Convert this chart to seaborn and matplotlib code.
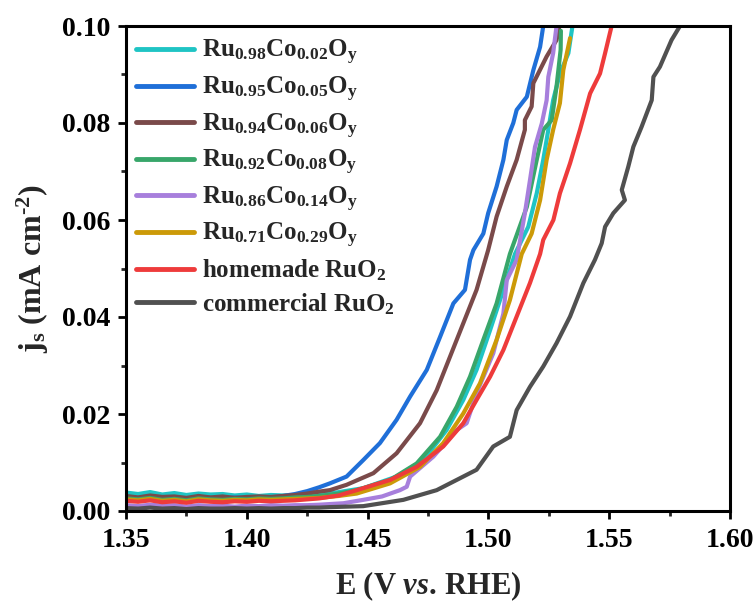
import numpy as np
import pandas as pd
import matplotlib
matplotlib.use("Agg")
import matplotlib.pyplot as plt
from matplotlib.ticker import FormatStrFormatter, MultipleLocator
import seaborn as sns

# ---------------- data ----------------
labels = [
    r"Ru$_{0.98}$Co$_{0.02}$O$_{y}$",
    r"Ru$_{0.95}$Co$_{0.05}$O$_{y}$",
    r"Ru$_{0.94}$Co$_{0.06}$O$_{y}$",
    r"Ru$_{0.92}$Co$_{0.08}$O$_{y}$",
    r"Ru$_{0.86}$Co$_{0.14}$O$_{y}$",
    r"Ru$_{0.71}$Co$_{0.29}$O$_{y}$",
    r"homemade RuO$_{2}$",
    r"commercial RuO$_{2}$",
]
colors = ["#1fc4c4", "#1f6fd8", "#7a4a4a", "#38a66a", "#a77fdc", "#cc9a08", "#ee3b3b", "#505050"]

flat_x = [1.350, 1.355, 1.360, 1.365, 1.370, 1.375, 1.380, 1.385,
          1.390, 1.395, 1.400, 1.405, 1.410, 1.415, 1.420, 1.425]

# Ru0.98Co0.02Oy (cyan)
x_c98 = flat_x + [1.4300, 1.4344, 1.4482, 1.4620, 1.4731, 1.4827, 1.4896, 1.4951, 1.5007, 1.5062,
                  1.5110, 1.5165, 1.5200, 1.5227, 1.5248, 1.5268, 1.5296, 1.5331, 1.5348]
y_c98 = [0.0038, 0.0035, 0.0039, 0.0034, 0.0037, 0.0033, 0.0036, 0.0034, 0.0035, 0.0032, 0.0034, 0.0031,
         0.0033, 0.0032, 0.0033, 0.0034,
         0.0035, 0.0036, 0.0047, 0.0071, 0.0105, 0.0167, 0.0229, 0.0291, 0.0373, 0.0456,
         0.0530, 0.0586, 0.0655, 0.0724, 0.0786, 0.0847, 0.0902, 0.0944, 0.1000]

# Ru0.95Co0.05Oy (blue)
x_c95 = flat_x + [1.4300, 1.4344, 1.4413, 1.4482, 1.4551, 1.4620, 1.4676, 1.4745, 1.4800, 1.4855,
                  1.4903, 1.4924, 1.4938, 1.4979, 1.4999, 1.5034, 1.5062, 1.5076, 1.5103, 1.5117,
                  1.5159, 1.5186, 1.5214, 1.5227]
y_c95 = [0.0029, 0.0027, 0.0030, 0.0026, 0.0028, 0.0025, 0.0029, 0.0027, 0.0026, 0.0028, 0.0027, 0.0029,
         0.0028, 0.0031, 0.0035, 0.0041,
         0.0049, 0.0057, 0.0071, 0.0105, 0.0140, 0.0188, 0.0236, 0.0291, 0.0359, 0.0428,
         0.0456, 0.0518, 0.0538, 0.0572, 0.0614, 0.0669, 0.0724, 0.0765, 0.0800, 0.0827,
         0.0854, 0.0909, 0.0957, 0.1000]

# Ru0.94Co0.06Oy (brown)
x_c94 = flat_x + [1.4300, 1.4344, 1.4413, 1.4524, 1.4620, 1.4717, 1.4786, 1.4841, 1.4896, 1.4951,
                  1.4999, 1.5034, 1.5076, 1.5117, 1.5151, 1.5151, 1.5179, 1.5186, 1.5241, 1.5282, 1.5294]
y_c94 = [0.0031, 0.0028, 0.0032, 0.0029, 0.0030, 0.0027, 0.0031, 0.0028, 0.0030, 0.0027, 0.0029, 0.0030,
         0.0029, 0.0031, 0.0033, 0.0036,
         0.0040, 0.0043, 0.0054, 0.0078, 0.0119, 0.0181, 0.0249, 0.0318, 0.0387, 0.0456,
         0.0538, 0.0607, 0.0669, 0.0724, 0.0786, 0.0806, 0.0834, 0.0882, 0.0937, 0.0971, 0.1000]

# Ru0.92Co0.08Oy (green)
x_c92 = flat_x + [1.4300, 1.4380, 1.4455, 1.4593, 1.4703, 1.4800, 1.4869, 1.4924, 1.4979, 1.5034,
                  1.5089, 1.5159, 1.5200, 1.5227, 1.5262, 1.5282, 1.5299, 1.5300]
y_c92 = [0.0026, 0.0024, 0.0027, 0.0023, 0.0025, 0.0022, 0.0026, 0.0024, 0.0023, 0.0025, 0.0024, 0.0026,
         0.0025, 0.0026, 0.0028, 0.0029,
         0.0031, 0.0036, 0.0043, 0.0064, 0.0098, 0.0153, 0.0215, 0.0277, 0.0353, 0.0428,
         0.0530, 0.0627, 0.0724, 0.0786, 0.0806, 0.0875, 0.0951, 0.0990]

# Ru0.86Co0.14Oy (purple)
x_c86 = flat_x + [1.4300, 1.4400, 1.4482, 1.4560, 1.4634, 1.4662, 1.4676, 1.4772, 1.4869, 1.4910,
                  1.4951, 1.5020, 1.5062, 1.5076, 1.5117, 1.5151, 1.5172, 1.5193, 1.5221, 1.5241,
                  1.5248, 1.5268, 1.5282]
y_c86 = [0.0012, 0.0010, 0.0013, 0.0011, 0.0012, 0.0009, 0.0012, 0.0010, 0.0011, 0.0009, 0.0011, 0.0010,
         0.0012, 0.0011, 0.0012, 0.0012,
         0.0013, 0.0016, 0.0023, 0.0030, 0.0043, 0.0050, 0.0071, 0.0112, 0.0167, 0.0181,
         0.0243, 0.0325, 0.0407, 0.0476, 0.0518, 0.0614, 0.0682, 0.0751, 0.0799, 0.0847,
         0.0895, 0.0944, 0.1000]

# Ru0.71Co0.29Oy (gold)
x_c71 = flat_x + [1.4300, 1.4380, 1.4455, 1.4593, 1.4717, 1.4813, 1.4896, 1.4965, 1.5034, 1.5089,
                  1.5138, 1.5179, 1.5214, 1.5241, 1.5268, 1.5296, 1.5310, 1.5338]
y_c71 = [0.0024, 0.0022, 0.0025, 0.0021, 0.0023, 0.0020, 0.0024, 0.0022, 0.0021, 0.0023, 0.0022, 0.0024,
         0.0023, 0.0024, 0.0025, 0.0026,
         0.0027, 0.0031, 0.0036, 0.0057, 0.0091, 0.0140, 0.0201, 0.0263, 0.0353, 0.0435,
         0.0530, 0.0572, 0.0641, 0.0724, 0.0786, 0.0841, 0.0909, 0.0975]

# homemade RuO2 (red)
x_home = flat_x + [1.4300, 1.4380, 1.4455, 1.4593, 1.4703, 1.4813, 1.4896, 1.4951, 1.5007, 1.5062,
                   1.5117, 1.5172, 1.5214, 1.5227, 1.5269, 1.5296, 1.5338, 1.5379, 1.5421, 1.5462,
                   1.5483, 1.5510]
y_home = [0.0021, 0.0019, 0.0022, 0.0018, 0.0020, 0.0017, 0.0021, 0.0019, 0.0018, 0.0020, 0.0019, 0.0021,
          0.0020, 0.0021, 0.0022, 0.0024,
          0.0026, 0.0032, 0.0043, 0.0064, 0.0091, 0.0133, 0.0181, 0.0229, 0.0277, 0.0332,
          0.0401, 0.0470, 0.0530, 0.0559, 0.0600, 0.0655, 0.0717, 0.0786, 0.0861, 0.0902,
          0.0944, 0.1000]

# commercial RuO2 (dark grey)
x_comm = flat_x + [1.4300, 1.4344, 1.4482, 1.4648, 1.4786, 1.4896, 1.4951, 1.5020, 1.5089, 1.5117,
                   1.5172, 1.5227, 1.5282, 1.5338, 1.5393, 1.5441, 1.5469, 1.5483, 1.5517, 1.5565,
                   1.5552, 1.5579, 1.5600, 1.5634, 1.5676, 1.5683, 1.5710, 1.5758, 1.5793]
y_comm = [0.0006, 0.0005, 0.0007, 0.0005, 0.0006, 0.0004, 0.0006, 0.0005, 0.0005, 0.0006, 0.0005, 0.0006,
          0.0005, 0.0006, 0.0006, 0.0007,
          0.0007, 0.0008, 0.0010, 0.0023, 0.0043, 0.0071, 0.0085, 0.0133, 0.0153, 0.0208,
          0.0256, 0.0298, 0.0346, 0.0401, 0.0470, 0.0518, 0.0552, 0.0586, 0.0614, 0.0641,
          0.0662, 0.0710, 0.0751, 0.0792, 0.0847, 0.0895, 0.0916, 0.0971, 0.1000]

series_x = [x_c98, x_c95, x_c94, x_c92, x_c86, x_c71, x_home, x_comm]
series_y = [y_c98, y_c95, y_c94, y_c92, y_c86, y_c71, y_home, y_comm]

xticks = [1.35, 1.40, 1.45, 1.50, 1.55, 1.60]
yticks = [0.00, 0.02, 0.04, 0.06, 0.08, 0.10]

# ---------------- build table ----------------
rows = []
for lab, xs, ys in zip(labels, series_x, series_y):
    for i, (xv, yv) in enumerate(zip(xs, ys)):
        rows.append({"E": xv, "j": yv, "sample": lab, "idx": i})
df = pd.DataFrame(rows)

# ---------------- style ----------------
sns.set_theme(style="ticks")
plt.rcParams["font.family"] = ["Liberation Serif", "DejaVu Serif"]
plt.rcParams["font.weight"] = "bold"
plt.rcParams["mathtext.fontset"] = "custom"
plt.rcParams["mathtext.rm"] = "Liberation Serif:bold"
plt.rcParams["mathtext.bf"] = "Liberation Serif:bold"
plt.rcParams["mathtext.it"] = "Liberation Serif:bold:italic"
plt.rcParams["mathtext.default"] = "bf"

fig = plt.figure(figsize=(7.56, 6.06), dpi=100)
ax = fig.add_axes([126 / 756, 1 - 511 / 606, 604 / 756, 485 / 606])

sns.lineplot(data=df, x="E", y="j", hue="sample", hue_order=labels,
             palette=dict(zip(labels, colors)), sort=False, estimator=None,
             units="sample", linewidth=3.0, ax=ax, legend=True)

ax.set_xlim(1.35, 1.60)
ax.set_ylim(0.0, 0.10)
ax.set_xticks(xticks)
ax.set_yticks(yticks)
ax.xaxis.set_major_formatter(FormatStrFormatter("%.2f"))
ax.yaxis.set_major_formatter(FormatStrFormatter("%.2f"))
ax.xaxis.set_minor_locator(MultipleLocator(0.025))
ax.yaxis.set_minor_locator(MultipleLocator(0.01))
ax.tick_params(axis="both", which="major", direction="out", length=6, width=2,
               labelsize=20, top=False, right=False, colors="black")
ax.tick_params(axis="y", which="major", pad=5)
ax.tick_params(axis="x", which="major", pad=6)
ax.tick_params(axis="both", which="minor", direction="out", length=3.5, width=2,
               top=False, right=False)
for lab in ax.get_xticklabels() + ax.get_yticklabels():
    lab.set_fontweight("bold")
for sp in ax.spines.values():
    sp.set_linewidth(2.2)
    sp.set_color("black")
    sp.set_visible(True)

ax.set_xlabel(r"E (V $\mathit{vs.}\,$RHE)", fontsize=22, fontweight="bold", labelpad=12)
ax.set_ylabel("j$_{s}$ (mA cm$^{\u2010 2}$)", fontsize=23, fontweight="bold", labelpad=8)

handles, hl = ax.get_legend_handles_labels()
leg = ax.legend(handles, hl, loc="upper left", bbox_to_anchor=(0.012, 0.98),
                frameon=False, handlelength=2.35, handletextpad=0.3,
                labelspacing=0.3, borderpad=0.1, borderaxespad=0.0,
                prop={"weight": "bold", "size": 18})
for h in leg.get_lines():
    h.set_linewidth(3.5)

fig.savefig("out.png", dpi=100)
